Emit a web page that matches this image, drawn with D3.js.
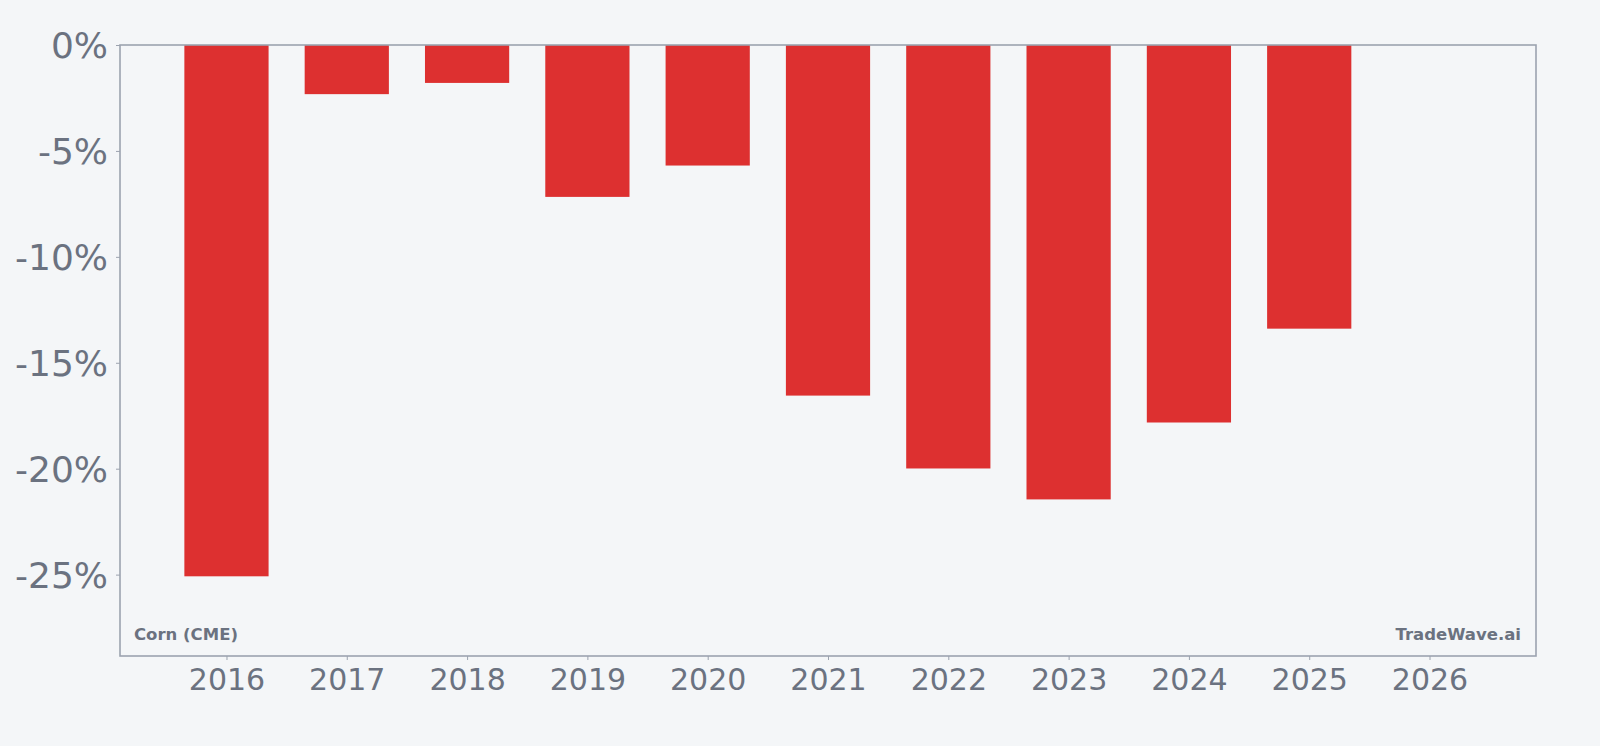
<!DOCTYPE html>
<html>
<head>
<meta charset="utf-8">
<script src="https://cdn.jsdelivr.net/npm/d3@7"></script>
<style>
  html, body { margin: 0; padding: 0; background: #f4f6f8; }
  svg { display: block; }
</style>
</head>
<body>
<svg id="chart" width="1600" height="746"></svg>
<script>
const years = [2016, 2017, 2018, 2019, 2020, 2021, 2022, 2023, 2024, 2025, 2026];
const returns = [-25.08, -2.32, -1.79, -7.17, -5.69, -16.55, -19.99, -21.45, -17.82, -13.39, 0];
const yTicks = [0, -5, -10, -15, -20, -25];
const leftLabel = "Corn (CME)";
const rightLabel = "TradeWave.ai";

const W = 1600, H = 746;
const m = { left: 120, top: 45, right: 64, bottom: 90 };
const iw = W - m.left - m.right, ih = H - m.top - m.bottom;
const textColor = "#6b7280", frameColor = "#9ca3af", barColor = "#dd3030";

const svg = d3.select("#chart");
svg.append("rect").attr("width", W).attr("height", H).attr("fill", "#f4f6f8");
const g = svg.append("g").attr("transform", `translate(${m.left},${m.top})`);

const barW = 0.7;
const xMin = d3.min(years) - barW / 2, xMax = d3.max(years) + barW / 2;
const xPad = (xMax - xMin) * 0.05;
const x = d3.scaleLinear().domain([xMin - xPad, xMax + xPad]).range([0, iw]);
const y = d3.scaleLinear().domain([d3.min(returns) * 1.15, 0]).range([ih, 0]);

g.selectAll("rect.bar").data(years.map((yr, i) => ({ yr, v: returns[i] })).filter(d => d.v !== 0))
  .join("rect").attr("class", "bar")
  .attr("x", d => x(d.yr - barW / 2))
  .attr("width", d => x(d.yr + barW / 2) - x(d.yr - barW / 2))
  .attr("y", y(0))
  .attr("height", d => y(d.v) - y(0))
  .attr("fill", barColor);

// frame
g.append("rect").attr("x", 0).attr("y", 0).attr("width", iw).attr("height", ih)
  .attr("fill", "none").attr("stroke", frameColor).attr("stroke-width", 1.6);

const yAxis = d3.axisLeft(y).tickValues(yTicks).tickSize(4).tickPadding(8)
  .tickFormat(d => d + "%");
const ya = g.append("g").call(yAxis);
ya.select(".domain").remove();
ya.selectAll("line").attr("stroke", frameColor);
ya.selectAll("text").attr("fill", textColor).attr("font-family", "DejaVu Sans")
  .attr("font-size", 36).attr("dy", "0.35em");

const xAxis = d3.axisBottom(x).tickValues(years).tickSize(4).tickPadding(8)
  .tickFormat(d3.format("d"));
const xa = g.append("g").attr("transform", `translate(0,${ih})`).call(xAxis);
xa.select(".domain").remove();
xa.selectAll("line").attr("stroke", frameColor);
xa.selectAll("text").attr("fill", textColor).attr("font-family", "DejaVu Sans")
  .attr("font-size", 30).attr("dy", "0.72em");

g.append("text").attr("x", 14).attr("y", ih - 16).text(leftLabel)
  .attr("font-family", "DejaVu Sans").attr("font-weight", "bold").attr("font-size", 16.5)
  .attr("fill", textColor);
g.append("text").attr("x", iw - 15).attr("y", ih - 16).attr("text-anchor", "end").text(rightLabel)
  .attr("font-family", "DejaVu Sans").attr("font-weight", "bold").attr("font-size", 16.5)
  .attr("fill", textColor);
</script>
</body>
</html>
